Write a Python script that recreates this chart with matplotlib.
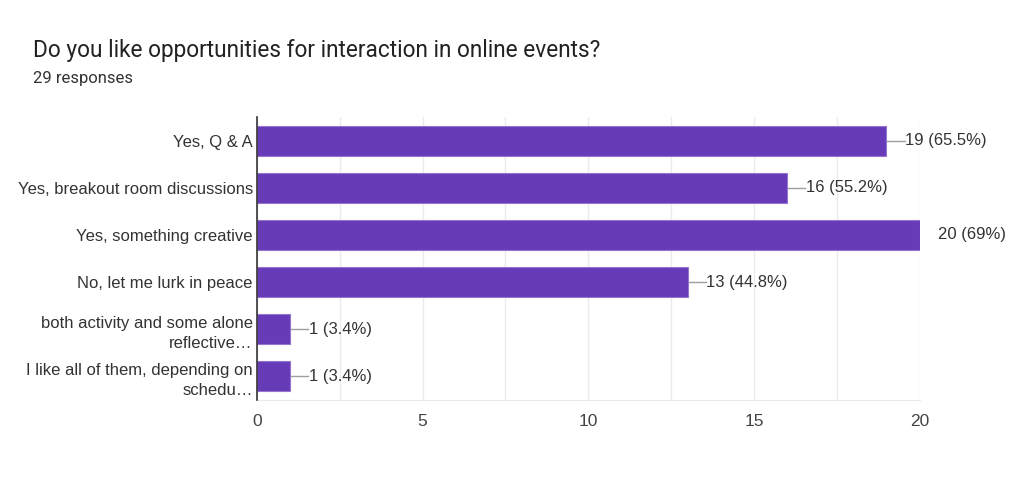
import matplotlib.pyplot as plt
import numpy as np

# datos del grafico
categorias = [
    'Yes, Q & A',
    'Yes, breakout room discussions',
    'Yes, something creative',
    'No, let me lurk in peace',
    'both activity and some alone\nreflective\u2026',
    'I like all of them, depending on\nschedu\u2026',
]
respuestas = [19, 16, 20, 13, 1, 1]
total = 29
ticks_x = [0, 5, 10, 15, 20]

plt.rcParams['font.family'] = ['Liberation Sans', 'DejaVu Sans']

fig = plt.figure(figsize=(10.24, 4.86), dpi=100)
ax = fig.add_axes([0.251, 0.177, 0.647, 0.582])

y = np.arange(len(categorias))
ax.barh(y, respuestas, height=0.64, color='#673ab7', edgecolor='#9575cd',
        linewidth=0.8, zorder=3)

# etiquetas con linea guia
for yi, v in zip(y, respuestas):
    pct = v / total * 100
    txt = f'{v} ({pct:.1f}%)' if round(pct, 1) != round(pct) else f'{v} ({pct:.0f}%)'
    ax.plot([v, v + 0.55], [yi, yi], color='#9e9e9e', lw=1, zorder=2,
            clip_on=True)
    ax.text(v + 0.56, yi, txt, va='center', ha='left', fontsize=12,
            color='#333333', clip_on=False)

ax.set_xlim(0, 20)
ax.set_ylim(len(categorias) - 0.5, -0.5)
ax.set_xticks(ticks_x)
ax.set_xticks(np.arange(0, 20.1, 2.5), minor=True)
ax.set_yticks(y)
ax.set_yticklabels(categorias, fontsize=12, color='#333333', linespacing=1.4)
ax.tick_params(axis='both', length=0, labelsize=12.5, colors='#444444')
ax.tick_params(axis='y', colors='#333333', labelsize=12, pad=3)
ax.tick_params(axis='x', pad=10)
ax.tick_params(which='minor', length=0)
ax.grid(axis='x', which='both', color='#ebebeb', lw=1, zorder=0)

for s in ['top', 'right']:
    ax.spines[s].set_visible(False)
ax.spines['bottom'].set_color('#ebebeb')
ax.spines['left'].set_color('#333333')
ax.spines['left'].set_linewidth(1.2)
ax.spines['left'].set_zorder(4)

fig.text(0.032, 0.883, 'Do you like opportunities for interaction in online events?',
         fontsize=16.3, color='#222222', va='baseline', family=['Roboto', 'DejaVu Sans'])
fig.text(0.032, 0.83, '29 responses', fontsize=12, color='#333333', va='baseline',
         family=['Roboto', 'DejaVu Sans'])

fig.savefig('out.png', dpi=100, facecolor='white')
